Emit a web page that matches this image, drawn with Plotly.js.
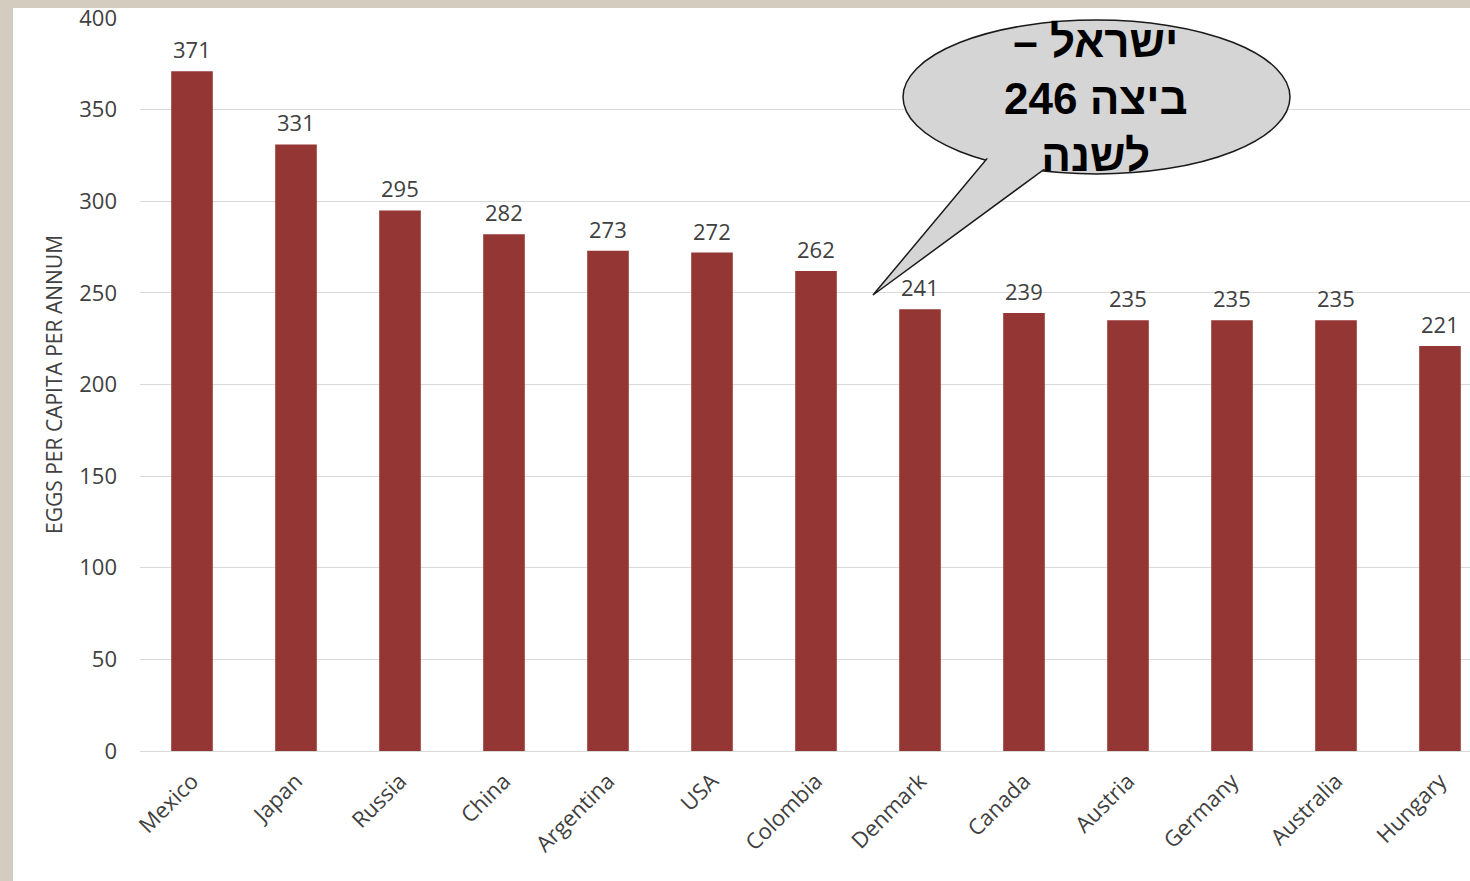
<!DOCTYPE html>
<html>
<head>
<meta charset="utf-8">
<script src="https://cdn.plot.ly/plotly-3.0.1.min.js"></script>
<style>
html,body{margin:0;padding:0;width:1470px;height:881px;overflow:hidden;background:#d4ccbf;}
#card{position:absolute;left:12px;top:8px;width:1458px;height:873px;background:#ffffff;border-left:1px solid #c8c8c8;}
#chart{position:absolute;left:0;top:0;width:1470px;height:881px;}
</style>
</head>
<body>
<div id="card"></div>
<div id="chart"></div>
<script>
const countries = ["Mexico","Japan","Russia","China","Argentina","USA","Colombia","Denmark","Canada","Austria","Germany","Australia","Hungary"];
const eggsPerCapita = [371,331,295,282,273,272,262,241,239,235,235,235,221];
const yTicks = [0,50,100,150,200,250,300,350,400];
const calloutLines = ["ישראל –\u200F", "246 ביצה", "לשנה"];

const W = 1470, H = 881;
const M = {l:140, r:0, t:18, b:130};
const PW = W - M.l - M.r, PH = H - M.t - M.b;
const px = x => (x - M.l) / PW;
const py = y => (H - M.b - y) / PH;

const barColor = "#943634";
const textColor = "#404040";
const fontFam = "'Open Sans', 'Liberation Sans', sans-serif";

const trace = {
  type: "bar",
  x: countries,
  y: eggsPerCapita,
  marker: {color: barColor},
  hoverinfo: "x+y"
};

const labelAnns = countries.map((c, i) => ({
  x: c, y: eggsPerCapita[i], xref: "x", yref: "y",
  text: String(eggsPerCapita[i]), showarrow: false,
  yanchor: "bottom", yshift: 5,
  font: {family: fontFam, size: 22, color: textColor}
}));

const bubbleFill = "#d5d5d5";
const bubbleLine = "#1a1a1a";
const shapes = [
  {type:"circle", xref:"paper", yref:"paper", x0:px(903), x1:px(1290), y0:py(174), y1:py(20),
   fillcolor:bubbleFill, line:{color:bubbleLine, width:1.5}, layer:"above"},
  {type:"path", xref:"paper", yref:"paper",
   path:`M ${px(873)},${py(295)} L ${px(990)},${py(155)} L ${px(1050)},${py(165)} Z`,
   fillcolor:bubbleFill, line:{color:bubbleLine, width:1.5}, layer:"above"},
  {type:"circle", xref:"paper", yref:"paper", x0:px(905), x1:px(1288), y0:py(172), y1:py(22),
   fillcolor:bubbleFill, line:{width:0}, layer:"above"}
];

const annotations = labelAnns.concat([{
  xref:"paper", yref:"paper", x:px(1096), y:py(99), xanchor:"center", yanchor:"middle",
  text: calloutLines.join("<br>"), showarrow:false,
  font:{family:"'Liberation Sans', Arial, sans-serif", size:44, color:"#000000", weight:"bold"}
}]);

const layout = {
  width: W, height: H,
  margin: M,
  paper_bgcolor: "rgba(0,0,0,0)",
  plot_bgcolor: "rgba(0,0,0,0)",
  bargap: 0.6,
  showlegend: false,
  xaxis: {
    type: "category",
    range: [-0.5, -0.5 + PW / 104],
    tickangle: -45,
    tickfont: {family: fontFam, size: 22, color: textColor},
    ticklabelstandoff: 12,
    showgrid: false, zeroline: false, showline: false, ticks: "",
    fixedrange: true
  },
  yaxis: {
    range: [0, 400],
    tickvals: yTicks,
    ticktext: yTicks.map(String),
    tickfont: {family: fontFam, size: 22, color: textColor},
    showgrid: true, gridcolor: "#d9d9d9", gridwidth: 1,
    zeroline: true, zerolinecolor: "#d9d9d9", zerolinewidth: 1,
    showline: false, ticks: "",
    ticklabelstandoff: 22,
    title: {text: "EGGS PER CAPITA PER ANNUM", standoff: 10,
            font: {family: fontFam, size: 21, color: textColor}},
    fixedrange: true
  },
  shapes: shapes,
  annotations: annotations
};

Plotly.newPlot("chart", [trace], layout, {displayModeBar: false, responsive: false});
</script>
</body>
</html>
